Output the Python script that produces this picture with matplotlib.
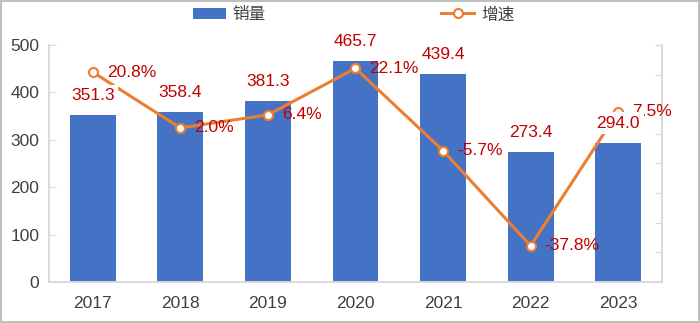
import matplotlib
matplotlib.use("Agg")
import matplotlib.pyplot as plt
from matplotlib.patches import Rectangle

plt.rcParams["font.family"] = ["Liberation Sans", "Noto Sans CJK SC", "DejaVu Sans"]

years  = ["2017", "2018", "2019", "2020", "2021", "2022", "2023"]
sales  = [351.3, 358.4, 381.3, 465.7, 439.4, 273.4, 294.0]
growth = [20.8, 2.0, 6.4, 22.1, -5.7, -37.8, 7.5]

BLUE   = "#4472C4"
ORANGE = "#ED7D31"
RED    = "#C00000"
GRID   = "#D9D9D9"
TEXT   = "#404040"

fig = plt.figure(figsize=(7.0, 3.23), dpi=100)
ax = fig.add_axes([0.07, 0.127, 0.8757, 0.734])
ax2 = ax.twinx()

x = range(len(years))
bars = ax.bar(x, sales, width=0.525, color=BLUE, label="销量", zorder=2)
ax.set_xlim(-0.5, len(years) - 0.5)
ax.set_ylim(0, 500)
ax.set_yticks(range(0, 501, 100))
ax.set_xticks(list(x))
ax.set_xticklabels(years)

for a in (ax, ax2):
    a.spines["top"].set_visible(False)
    for sp in ["left", "right", "bottom"]:
        a.spines[sp].set_color(GRID)
        a.spines[sp].set_linewidth(1.2)

ax.tick_params(axis="y", direction="in", length=5, color=GRID, labelsize=12.5,
               labelcolor=TEXT, pad=7)
ax.tick_params(axis="x", length=0, labelsize=12.5, labelcolor=TEXT, pad=10)

ax2.set_ylim(-50, 30)
ax2.set_yticks(range(-50, 31, 10))
ax2.tick_params(axis="y", direction="in", length=5, color=GRID, labelright=False)

# line on top of bars
ax.set_zorder(1)
ax2.set_zorder(2)
ax.patch.set_visible(False)
line, = ax2.plot(list(x), growth, color=ORANGE, linewidth=2.2, marker="o",
                 markersize=6.5, markerfacecolor="white", markeredgecolor=ORANGE,
                 markeredgewidth=1.5, label="增速", zorder=3)

for xi, g in zip(x, growth):
    ax2.annotate(f"{g:.1f}%", (xi, g), textcoords="offset points", xytext=(10, 0),
                 ha="left", va="center", color=RED, fontsize=12.5, zorder=4)

for xi, v in zip(x, sales):
    y2 = (v / 500.0) * 80 - 50
    ax2.annotate(f"{v:.1f}", (xi, y2), textcoords="offset points", xytext=(0, 14),
                 ha="center", va="center", color=RED, fontsize=12.5, zorder=5,
                 bbox=dict(boxstyle="square,pad=0.22", fc="white", ec="none"))

fig.legend(handles=[bars, line], labels=["销量", "增速"], loc="center",
           bbox_to_anchor=(0.505, 0.955), ncol=2, frameon=False, fontsize=12,
           labelcolor=TEXT, columnspacing=10.5, handlelength=2.0, handletextpad=0.4)

fig.patches.append(Rectangle((0.002, 0.003), 0.996, 0.994, transform=fig.transFigure,
                             fill=False, edgecolor="#BFBFBF", linewidth=1.5))

fig.savefig("out.png", dpi=100)
